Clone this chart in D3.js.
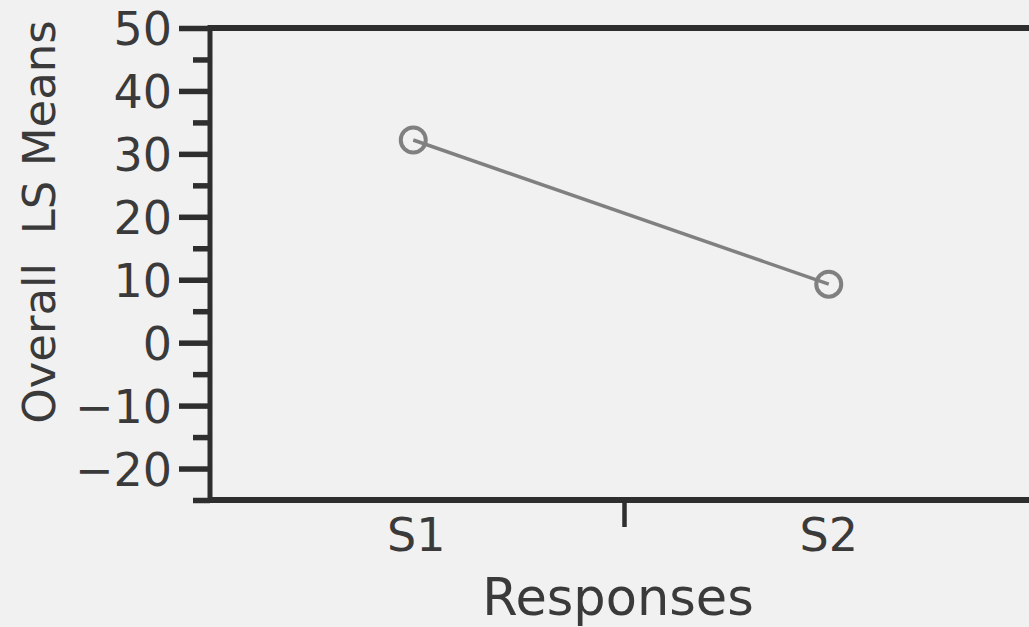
<!DOCTYPE html>
<html>
<head>
<meta charset="utf-8">
<script src="https://cdn.jsdelivr.net/npm/d3@7"></script>
<style>
  html, body { margin: 0; padding: 0; background: #f1f1f1; }
  svg { display: block; }
  text { font-family: "DejaVu Sans", sans-serif; fill: #3a3a3a; }
</style>
</head>
<body>
<svg id="chart" width="1029" height="627"></svg>
<script>
const categories = ["S1", "S2"];
const lsMeans = [32.2, 9.3];
const yMajorTicks = [-20, -10, 0, 10, 20, 30, 40, 50];
const yMinorTicks = [-25, -15, -5, 5, 15, 25, 35, 45];
const yTitle = "Overall\u00A0\u00A0LS Means";
const xTitle = "Responses";

(function () {
const svg = d3.select("#chart");
const W = 1029, H = 627;
const mLeft = 210, mTop = 28, mBottom = 500, mRight = 1035;
const axisColor = "#2e2e2e";
const markColor = "#808080";

svg.append("rect").attr("width", W).attr("height", H).attr("fill", "#f1f1f1");

const y = d3.scaleLinear().domain([-25, 50]).range([mBottom, mTop]);
const x = d3.scaleBand().domain(categories).range([mLeft, mRight]).padding(0);

// frame lines (top and bottom) extending off the right edge
svg.append("line")
  .attr("x1", mLeft).attr("x2", W + 20)
  .attr("y1", y(50)).attr("y2", y(50))
  .attr("stroke", axisColor).attr("stroke-width", 6);
svg.append("line")
  .attr("x1", mLeft).attr("x2", W + 20)
  .attr("y1", y(-25)).attr("y2", y(-25))
  .attr("stroke", axisColor).attr("stroke-width", 6);

// y axis major
const yAxis = svg.append("g")
  .attr("transform", `translate(${mLeft},0)`)
  .call(d3.axisLeft(y).tickValues(yMajorTicks).tickSize(31).tickPadding(7)
    .tickFormat(d => d < 0 ? "\u2212" + Math.abs(d) : d));
yAxis.select(".domain").attr("stroke", axisColor).attr("stroke-width", 5)
  .attr("d", `M0,${y(-25) + 3}V${y(50) - 3}`);
yAxis.selectAll(".tick line").attr("stroke", axisColor).attr("stroke-width", 5.5);
yAxis.selectAll(".tick text")
  .style("font-family", '"DejaVu Sans", sans-serif')
  .style("font-size", "46px").attr("fill", "#3a3a3a").attr("dy", "0.36em");

// y axis minor
const yMinor = svg.append("g")
  .attr("transform", `translate(${mLeft},0)`)
  .call(d3.axisLeft(y).tickValues(yMinorTicks).tickSize(17).tickFormat(""));
yMinor.select(".domain").remove();
yMinor.selectAll(".tick line").attr("stroke", axisColor).attr("stroke-width", 5.5);

// x axis labels
const xAxis = svg.append("g")
  .attr("transform", `translate(0,${mBottom})`)
  .call(d3.axisBottom(x).tickSize(0).tickPadding(18));
xAxis.select(".domain").remove();
xAxis.selectAll(".tick text")
  .style("font-family", '"DejaVu Sans", sans-serif')
  .style("font-size", "46px").attr("fill", "#3a3a3a").attr("dy", "0.71em");

// divider tick between categories
svg.append("line")
  .attr("x1", x("S2") + 2).attr("x2", x("S2") + 2)
  .attr("y1", mBottom).attr("y2", mBottom + 27)
  .attr("stroke", axisColor).attr("stroke-width", 4.5);

// titles
svg.append("text")
  .attr("x", 618).attr("y", 615)
  .attr("text-anchor", "middle")
  .style("font-size", "51px")
  .text(xTitle);
svg.append("text")
  .attr("transform", `translate(55,222) rotate(-90)`)
  .attr("text-anchor", "middle")
  .style("font-size", "45px")
  .text(yTitle);

// data line and points
const pts = categories.map((c, i) => ({c, v: lsMeans[i]}));
const cx = d => x(d.c) + x.bandwidth() / 2 - (d.c === "S1" ? 3 : 0);
svg.append("path")
  .datum(pts)
  .attr("d", d3.line().x(cx).y(d => y(d.v)))
  .attr("fill", "none").attr("stroke", markColor).attr("stroke-width", 3.5);
svg.selectAll("circle.pt").data(pts).join("circle")
  .attr("class", "pt")
  .attr("cx", cx).attr("cy", d => y(d.v))
  .attr("r", 12.5)
  .attr("fill", "none").attr("stroke", markColor).attr("stroke-width", 4);
})();
</script>
</body>
</html>
